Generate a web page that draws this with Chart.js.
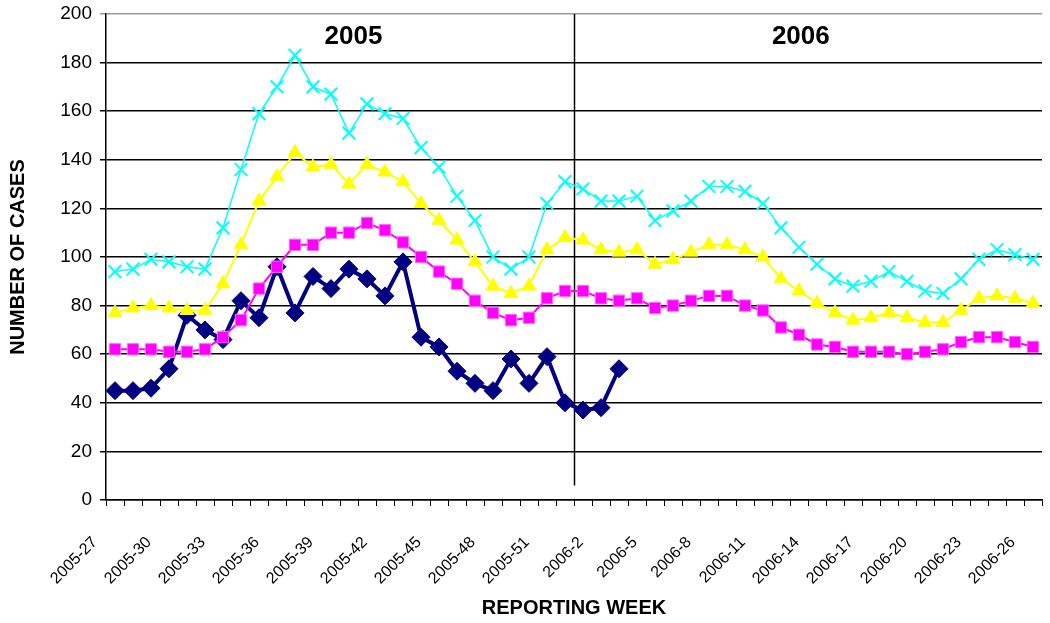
<!DOCTYPE html>
<html>
<head>
<meta charset="utf-8">
<script src="https://cdn.jsdelivr.net/npm/chart.js@4.4.0/dist/chart.umd.min.js"></script>
<style>
  html, body { margin: 0; padding: 0; background: #fff; overflow: hidden; }
  #wrap { position: absolute; left: 0; top: 0; }
</style>
</head>
<body>
<div id="wrap"><canvas id="grafica" width="1053" height="623"></canvas></div>
<script>
// reporting weeks 2005-27 .. 2006-26
const weeks = [];
for (let w = 27; w <= 52; w++) weeks.push('2005-' + w);
for (let w = 1; w <= 26; w++) weeks.push('2006-' + w);

// weekly counts
const casesReported = [45, 45, 46, 54, 76, 70, 66, 82, 75, 96, 77, 92, 87, 95, 91, 84, 98, 67, 63, 53,
  48, 45, 58, 48, 59, 40, 37, 38, 54];
const seasonMean = [62, 62, 62, 61, 61, 62, 67, 74, 87, 96, 105, 105, 110, 110, 114, 111, 106, 100, 94, 89,
  82, 77, 74, 75, 83, 86, 86, 83, 82, 83, 79, 80, 82, 84, 84, 80, 78, 71, 68, 64,
  63, 61, 61, 61, 60, 61, 62, 65, 67, 67, 65, 63];
const upperLimit1 = [77, 79, 80, 79, 78, 78, 89, 105, 123, 133, 143, 137, 138, 130, 138, 135, 131, 122, 115, 107,
  98, 88, 85, 88, 103, 108, 107, 103, 102, 103, 97, 99, 102, 105, 105, 103, 100, 91, 86, 81,
  77, 74, 75, 77, 75, 73, 73, 78, 83, 84, 83, 81];
const upperLimit2 = [94, 95, 99, 98, 96, 95, 112, 136, 159, 170, 183, 170, 167, 151, 163, 159, 157, 145, 137, 125,
  115, 100, 95, 100, 122, 131, 128, 123, 123, 125, 115, 119, 123, 129, 129, 127, 122, 112, 104, 97,
  91, 88, 90, 94, 90, 86, 85, 91, 99, 103, 101, 99];

const yearLabels = ['2005', '2006'];

const FONT = "'Liberation Sans', Arial, sans-serif";

// vertical line between the years + the year captions
const yearPlugin = {
  id: 'years',
  beforeDatasetsDraw(chart) {
    const x = chart.scales.x, y = chart.scales.y, ctx = chart.ctx;
    const px = Math.round(x.getPixelForValue(25.5)) + 0.5;
    ctx.save();
    ctx.strokeStyle = '#000';
    ctx.lineWidth = 1.5;
    ctx.beginPath();
    ctx.moveTo(px, chart.chartArea.top);
    ctx.lineTo(px, y.getPixelForValue(6));
    ctx.stroke();
    ctx.restore();
  },
  afterDatasetsDraw(chart) {
    const x = chart.scales.x, y = chart.scales.y, ctx = chart.ctx;
    const pos = [13.25, 38.1];
    ctx.save();
    ctx.font = 'bold 26px ' + FONT;
    ctx.fillStyle = '#000';
    ctx.textAlign = 'center';
    ctx.textBaseline = 'middle';
    yearLabels.forEach((t, i) => {
      ctx.fillText(t, x.getPixelForValue(pos[i]), y.getPixelForValue(190.5));
    });
    ctx.restore();
  }
};

const ctx = document.getElementById('grafica').getContext('2d');
new Chart(ctx, {
  type: 'line',
  data: {
    labels: weeks,
    datasets: [
      {
        label: 'Upper limit 2',
        data: upperLimit2,
        borderColor: '#00ffff',
        borderWidth: 1.5,
        pointStyle: 'crossRot',
        pointRadius: 9,
        pointBorderWidth: 2,
        pointBorderColor: '#00ffff'
      },
      {
        label: 'Upper limit 1',
        data: upperLimit1,
        borderColor: '#ffff00',
        backgroundColor: '#ffff00',
        borderWidth: 2,
        pointStyle: 'triangle',
        pointRadius: 8,
        pointBorderWidth: 1,
        pointBorderColor: '#ffff00'
      },
      {
        label: 'Mean',
        data: seasonMean,
        borderColor: '#ff00ff',
        backgroundColor: '#ff00ff',
        borderWidth: 2,
        pointStyle: 'rect',
        pointRadius: 8,
        pointBorderWidth: 1,
        pointBorderColor: '#ff66ff'
      },
      {
        label: 'Cases',
        data: casesReported,
        borderColor: '#000080',
        backgroundColor: '#000080',
        borderWidth: 4,
        pointStyle: 'rectRot',
        pointRadius: 9,
        pointBorderWidth: 1,
        pointBorderColor: '#000080'
      }
    ]
  },
  options: {
    responsive: false,
    animation: false,
    layout: { padding: { top: 14, right: 1, left: 0, bottom: 0 } },
    elements: { line: { tension: 0 } },
    plugins: {
      legend: { display: false },
      tooltip: { enabled: false }
    },
    scales: {
      x: {
        type: 'category',
        offset: true,
        afterFit(axis) {
          axis.height = 123;
          // rotated labels should not squeeze the plot
          axis.paddingLeft = 0;
          axis.paddingRight = 0;
        },
        border: { display: true, color: '#000', width: 1.5 },
        grid: { offset: true, drawOnChartArea: false, drawTicks: true, tickLength: 6, color: '#000' },
        ticks: {
          autoSkip: false,
          maxRotation: 45,
          minRotation: 45,
          padding: 27,
          labelOffset: -20,
          color: '#000',
          font: { family: FONT, size: 16 },
          callback(v, i) { return i % 3 === 0 ? weeks[i] : ''; }
        },
        title: {
          display: true,
          text: 'REPORTING WEEK',
          color: '#000',
          font: { family: FONT, size: 20, weight: 'bold' },
          padding: { top: 0, bottom: 3 }
        }
      },
      y: {
        min: 0,
        max: 200,
        afterFit(axis) {
          axis.width = 106;
          axis.paddingTop = 0;
          axis.paddingBottom = 0;
        },
        border: { display: true, color: '#000', width: 1.5 },
        grid: {
          color: (c) => c.tick && c.tick.value === 200 ? '#999' : '#000',
          lineWidth: 1.5,
          tickLength: 6
        },
        ticks: {
          stepSize: 20,
          padding: 8,
          color: '#000',
          font: { family: FONT, size: 19 }
        },
        title: {
          display: true,
          text: 'NUMBER OF CASES',
          color: '#000',
          font: { family: FONT, size: 20, weight: 'bold' },
          padding: { top: 6, bottom: 0 }
        }
      }
    }
  },
  plugins: [yearPlugin]
});
</script>
</body>
</html>
